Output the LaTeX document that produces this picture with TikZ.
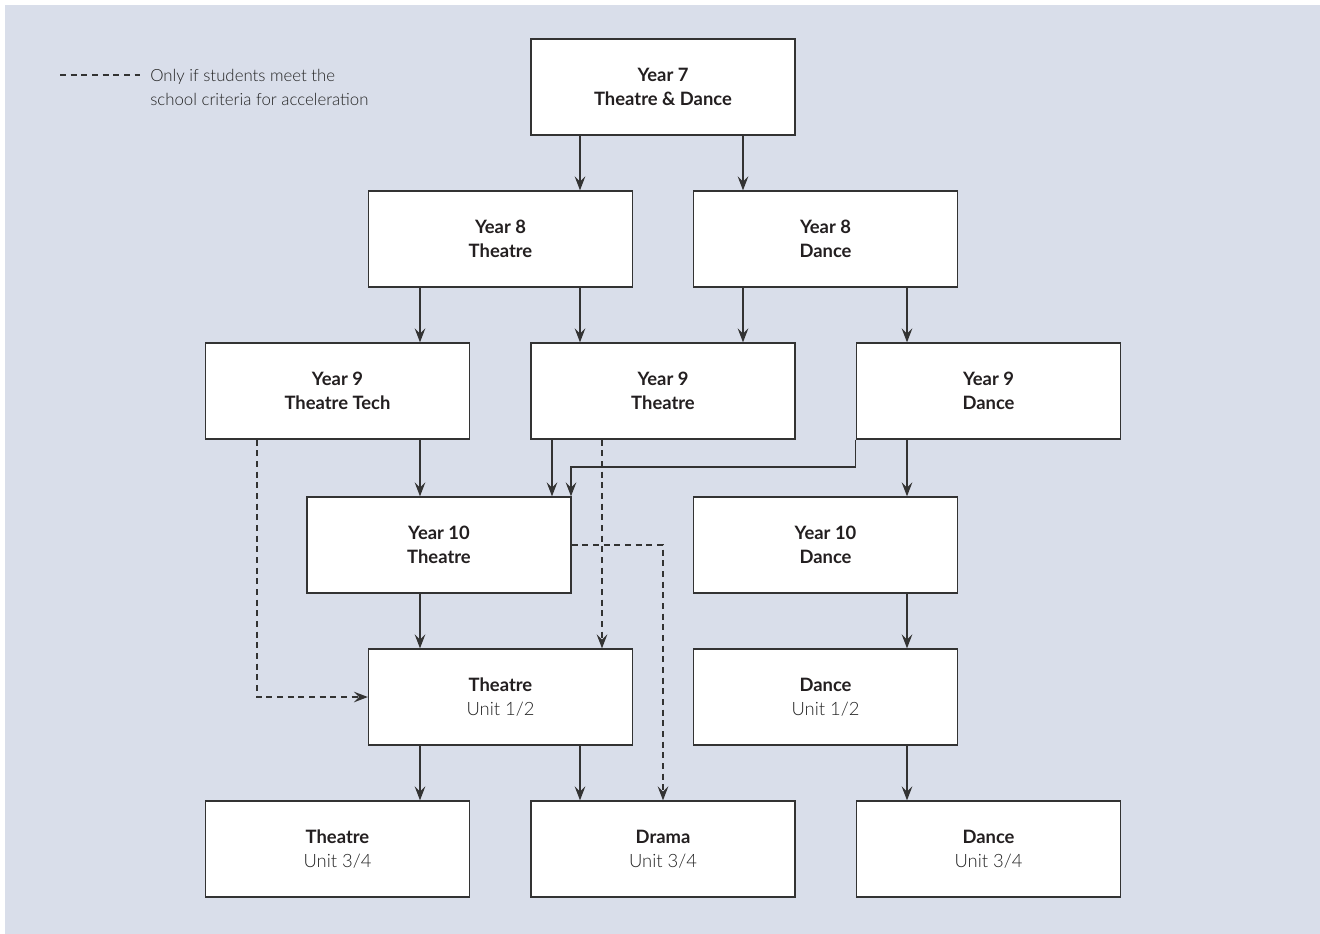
\documentclass[tikz,border=0pt]{standalone}
\usepackage{fontspec}
\setmainfont{Lato}
\newfontfamily\lightf{Lato Light}
\usetikzlibrary{arrows.meta}
\definecolor{bg}{HTML}{D9DEEA}
\definecolor{ln}{HTML}{333333}
\definecolor{tx}{HTML}{231F20}
\definecolor{tl}{HTML}{222222}
\tikzset{
  box/.style={draw=ln, line width=1pt, fill=white, minimum width=198pt, minimum height=72pt, inner sep=0pt, align=center, text=tx, font=\fontsize{13.8}{18}\selectfont},
  arr/.style={draw=ln, line width=0.9pt, -{Stealth[length=10.5pt,width=8pt,inset=4pt]}},
  dsh/.style={arr, dash pattern=on 4.5pt off 3.5pt},
}
\newcommand{\bt}[1]{\textbf{#1}}
\newcommand{\sub}[1]{{\lightf\color{tl}#1}}
\begin{document}
\begin{tikzpicture}[x=0.75pt,y=-0.75pt]
\useasboundingbox (0,0) rectangle (1320,933);
\fill[bg] (5,5) rectangle (1330,945);
% legend
\coordinate (l1) at (60,75);
\coordinate (l2) at (140,75);
\draw[ln, line width=0.9pt, dash pattern=on 4.5pt off 3.5pt] (l1) -- (l2);
\node[anchor=west, align=left, inner sep=0pt, text=tl, font=\lightf\fontsize{12.6}{18}\selectfont] (leg) at (150,87) {Only if students meet the\\school criteria for acceleration};
% boxes
\node[box] (y7) at (663,87) {\bt{Year 7}\\\bt{Theatre \& Dance}};
\node[box] (y8t) at (500.5,239) {\bt{Year 8}\\\bt{Theatre}};
\node[box] (y8d) at (825.5,239) {\bt{Year 8}\\\bt{Dance}};
\node[box] (y9tt) at (337.5,391) {\bt{Year 9}\\\bt{Theatre Tech}};
\node[box] (y9t) at (663,391) {\bt{Year 9}\\\bt{Theatre}};
\node[box] (y9d) at (988.5,391) {\bt{Year 9}\\\bt{Dance}};
\node[box] (y10t) at (439,545) {\bt{Year 10}\\\bt{Theatre}};
\node[box] (y10d) at (825.5,545) {\bt{Year 10}\\\bt{Dance}};
\node[box] (t12) at (500.5,697) {\bt{Theatre}\\\sub{Unit 1/2}};
\node[box] (d12) at (825.5,697) {\bt{Dance}\\\sub{Unit 1/2}};
\node[box] (t34) at (337.5,849) {\bt{Theatre}\\\sub{Unit 3/4}};
\node[box] (dr34) at (663,849) {\bt{Drama}\\\sub{Unit 3/4}};
\node[box] (d34) at (988.5,849) {\bt{Dance}\\\sub{Unit 3/4}};
% column coordinates
\coordinate (c257) at (257,0);
\coordinate (c420) at (420,0);
\coordinate (c552) at (552,0);
\coordinate (c580) at (580,0);
\coordinate (c602) at (602,0);
\coordinate (c743) at (743,0);
\coordinate (c907) at (907,0);
\coordinate (k) at (571,467);
% arrows
\draw[arr] (y7.south -| c580) -- (y8t.north -| c580);
\draw[arr] (y7.south -| c743) -- (y8d.north -| c743);
\draw[arr] (y8t.south -| c420) -- (y9tt.north -| c420);
\draw[arr] (y8t.south -| c580) -- (y9t.north -| c580);
\draw[arr] (y8d.south -| c743) -- (y9t.north -| c743);
\draw[arr] (y8d.south -| c907) -- (y9d.north -| c907);
\draw[arr] (y9tt.south -| c420) -- (y10t.north -| c420);
\draw[arr] (y9t.south -| c552) -- (y10t.north -| c552);
\draw[arr] (y9d.south west) |- (k) -- (y10t.north -| k);
\draw[arr] (y9d.south -| c907) -- (y10d.north -| c907);
\draw[arr] (y10t.south -| c420) -- (t12.north -| c420);
\draw[arr] (y10d.south -| c907) -- (d12.north -| c907);
\draw[arr] (t12.south -| c420) -- (t34.north -| c420);
\draw[arr] (t12.south -| c580) -- (dr34.north -| c580);
\draw[arr] (d12.south -| c907) -- (d34.north -| c907);
% dashed
\draw[dsh] (y9tt.south -| c257) |- (t12.west);
\draw[dsh] (y9t.south -| c602) -- (t12.north -| c602);
\draw[dsh] (y10t.east) -| (dr34.north);
\end{tikzpicture}
\end{document}
